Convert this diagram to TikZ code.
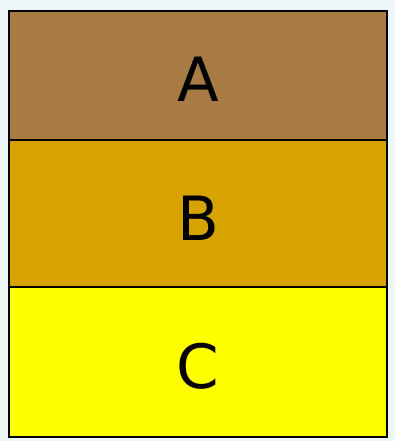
\documentclass[tikz,border=0pt]{standalone}
\usepackage{fontspec}
\setmainfont{DejaVu Sans}
\definecolor{bg}{HTML}{EEF7F7}
\definecolor{ca}{HTML}{A87A44}
\definecolor{cb}{HTML}{D6A300}
\definecolor{cc}{HTML}{FFFF00}
\begin{document}
\begin{tikzpicture}[x=1pt,y=-1pt,
  cell/.style={draw=black,line width=1.3pt},
  lab/.style={font=\fontsize{61}{61}\selectfont,anchor=base,inner sep=0pt}]
\fill[bg] (0,0) rectangle (395,441);
\useasboundingbox (0,0) rectangle (395,441);
\filldraw[cell,fill=ca] (9,11) rectangle (387,140);
\filldraw[cell,fill=cb] (9,140) rectangle (387,287);
\filldraw[cell,fill=cc] (9,287) rectangle (387,437);
\node[lab] (a) at (198,102) {A};
\node[lab] (b) at (198,240) {B};
\node[lab] (c) at (198,388) {C};
\end{tikzpicture}
\end{document}
